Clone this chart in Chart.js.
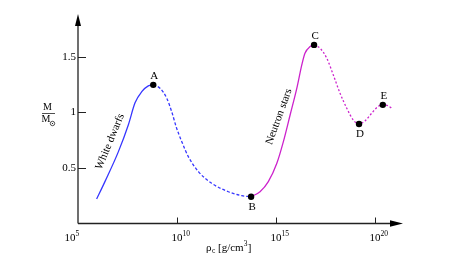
<!DOCTYPE html>
<html>
<head>
<meta charset="utf-8">
<script src="https://cdn.jsdelivr.net/npm/chart.js@4.4.1/dist/chart.umd.min.js"></script>
<style>
  body { margin: 0; background: #fff; }
  canvas { display: block; }
</style>
</head>
<body>
<canvas id="myChart" width="463" height="269"></canvas>
<script>
// log10 of central density, and mass in solar masses
const whiteDwarfRho = [5.94, 6.36, 7.04, 7.54, 7.88, 8.22, 8.55, 8.80];
const whiteDwarfMass = [0.22, 0.377, 0.647, 0.887, 1.086, 1.187, 1.239, 1.248];

const unstableWdRho = [8.80, 9.14, 9.48, 9.73, 9.98, 10.24, 10.57, 11.08, 11.75, 12.59, 13.27, 13.74];
const unstableWdMass = [1.248, 1.218, 1.128, 1.007, 0.858, 0.737, 0.602, 0.467, 0.362, 0.286, 0.25, 0.241];

const neutronRho = [13.74, 14.19, 14.61, 15.04, 15.37, 15.71, 16.05, 16.30, 16.46, 16.72, 16.92];
const neutronMass = [0.241, 0.286, 0.377, 0.542, 0.737, 0.977, 1.218, 1.428, 1.533, 1.593, 1.608];

const unstableNsRho = [16.92, 17.22, 17.56, 17.89, 18.23, 18.57, 18.90, 19.19, 19.49, 19.83, 20.14, 20.39, 20.64, 20.84];
const unstableNsMass = [1.608, 1.578, 1.488, 1.338, 1.173, 1.038, 0.932, 0.896, 0.923, 0.993, 1.052, 1.068, 1.061, 1.038];

const keyLabels = ["A", "B", "C", "D", "E"];
const keyRho = [8.80, 13.74, 16.92, 19.19, 20.39];
const keyMass = [1.248, 0.241, 1.608, 0.896, 1.068];

const xTicks = [5, 10, 15, 20];
const yTicks = [0.5, 1, 1.5];

const BLUE = "#3636ff";
const MAGENTA = "#cc22cc";
const SERIF = "'Liberation Serif', 'DejaVu Serif', serif";

function pts(xs, ys) {
  return xs.map((x, i) => ({ x: x, y: ys[i] }));
}

function line(xs, ys, color, dash) {
  return {
    data: pts(xs, ys),
    borderColor: color,
    borderWidth: 1.3,
    borderDash: dash,
    pointRadius: 0,
    cubicInterpolationMode: "monotone",
    fill: false,
    order: 1,
  };
}

const axesPlugin = {
  id: "axesPlugin",
  afterDraw(chart) {
    const ctx = chart.ctx;
    const xs = chart.scales.x;
    const ys = chart.scales.y;
    const area = chart.chartArea;
    const x0 = area.left;
    const y0 = area.bottom;

    ctx.save();
    ctx.strokeStyle = "#222";
    ctx.fillStyle = "#000";
    ctx.lineWidth = 1.3;

    // axes
    ctx.beginPath();
    ctx.moveTo(x0, y0);
    ctx.lineTo(x0, area.top + 10);
    ctx.moveTo(x0, y0);
    ctx.lineTo(area.right - 10, y0);
    ctx.stroke();

    // arrow heads
    ctx.beginPath();
    ctx.moveTo(x0, area.top);
    ctx.lineTo(x0 - 3, area.top + 12);
    ctx.lineTo(x0 + 3, area.top + 12);
    ctx.closePath();
    ctx.fill();
    ctx.beginPath();
    ctx.moveTo(area.right, y0);
    ctx.lineTo(area.right - 13, y0 - 3.2);
    ctx.lineTo(area.right - 13, y0 + 3.2);
    ctx.closePath();
    ctx.fill();

    // tick marks (inside)
    ctx.lineWidth = 1;
    ctx.beginPath();
    yTicks.forEach((v) => {
      const py = Math.round(ys.getPixelForValue(v)) + 0.5;
      ctx.moveTo(x0, py);
      ctx.lineTo(x0 + 8, py);
    });
    xTicks.slice(1).forEach((v) => {
      const px = Math.round(xs.getPixelForValue(v)) + 0.5;
      ctx.moveTo(px, y0);
      ctx.lineTo(px, y0 - 6);
    });
    ctx.stroke();

    // x tick labels 10^n
    ctx.textBaseline = "alphabetic";
    xTicks.forEach((v) => {
      let px = xs.getPixelForValue(v);
      if (v === xTicks[0]) px -= 8;
      ctx.font = "11px " + SERIF;
      ctx.textAlign = "right";
      ctx.fillText("10", px + 5.5, y0 + 17);
      ctx.font = "7.5px " + SERIF;
      ctx.textAlign = "left";
      ctx.fillText(String(v), px + 5.5, y0 + 12);
    });

    // x axis title: rho_c [g/cm^3]
    ctx.font = "11px " + SERIF;
    ctx.textAlign = "left";
    let tx = 206;
    ctx.fillText("\u03C1", tx, 251);
    ctx.font = "7.5px " + SERIF;
    ctx.fillText("c", tx + 6, 253);
    ctx.font = "11px " + SERIF;
    ctx.fillText("[g/cm", tx + 12, 251);
    const w = ctx.measureText("[g/cm").width;
    ctx.font = "7.5px " + SERIF;
    ctx.fillText("3", tx + 12 + w, 246);
    ctx.font = "11px " + SERIF;
    ctx.fillText("]", tx + 12 + w + 4, 251);

    // y axis title: M / M_sun
    ctx.textAlign = "center";
    ctx.font = "10px " + SERIF;
    ctx.fillText("M", 47.5, 110);
    ctx.fillText("M", 46, 122);
    ctx.lineWidth = 0.8;
    ctx.beginPath();
    ctx.moveTo(42, 113.5);
    ctx.lineTo(55, 113.5);
    ctx.stroke();
    ctx.beginPath();
    ctx.arc(52.5, 123.5, 2.2, 0, Math.PI * 2);
    ctx.stroke();
    ctx.beginPath();
    ctx.arc(52.5, 123.5, 0.6, 0, Math.PI * 2);
    ctx.fill();

    // point labels
    ctx.font = "11px " + SERIF;
    ctx.textAlign = "center";
    ctx.textBaseline = "middle";
    const below = { B: true, D: true };
    keyLabels.forEach((lab, i) => {
      const px = xs.getPixelForValue(keyRho[i]);
      const py = ys.getPixelForValue(keyMass[i]);
      ctx.fillText(lab, px + 1, below[lab] ? py + 10 : py - 9);
    });

    // branch labels
    const branch = (text, rho, mass, angle) => {
      ctx.save();
      ctx.translate(xs.getPixelForValue(rho), ys.getPixelForValue(mass));
      ctx.rotate((angle * Math.PI) / 180);
      ctx.fillText(text, 0, 0);
      ctx.restore();
    };
    branch("White dwarfs", 6.62, 0.737, -67.5);
    branch("Neutron stars", 15.15, 0.962, -70);

    ctx.restore();
  },
};

const config = {
  type: "line",
  data: {
    datasets: [
      line(whiteDwarfRho, whiteDwarfMass, BLUE, []),
      line(unstableWdRho, unstableWdMass, BLUE, [3, 2]),
      line(neutronRho, neutronMass, MAGENTA, []),
      line(unstableNsRho, unstableNsMass, MAGENTA, [2, 2]),
      {
        type: "scatter",
        data: pts(keyRho, keyMass),
        pointRadius: 3.2,
        pointBackgroundColor: "#000",
        pointBorderColor: "#000",
        pointBorderWidth: 0,
        showLine: false,
        order: 0,
      },
    ],
  },
  options: {
    responsive: false,
    animation: false,
    layout: { padding: { left: 0, right: 60, top: 14, bottom: 0 } },
    plugins: { legend: { display: false }, tooltip: { enabled: false } },
    scales: {
      x: {
        type: "linear",
        min: 5,
        max: 21.41,
        grid: { display: false, drawTicks: false },
        border: { display: false },
        ticks: { display: false },
        afterFit: (s) => { s.height = 45.5; },
      },
      y: {
        type: "linear",
        min: 0,
        max: 1.886,
        grid: { display: false, drawTicks: false },
        border: { display: false },
        afterBuildTicks: (s) => { s.ticks = yTicks.map((v) => ({ value: v })); },
        ticks: {
          padding: 2,
          color: "#000",
          font: { family: SERIF, size: 11 },
          callback: (v) => String(v),
        },
        afterFit: (s) => { s.width = 78; },
      },
    },
  },
  plugins: [axesPlugin],
};

var myChart = new Chart(document.getElementById("myChart"), config);
</script>
</body>
</html>
